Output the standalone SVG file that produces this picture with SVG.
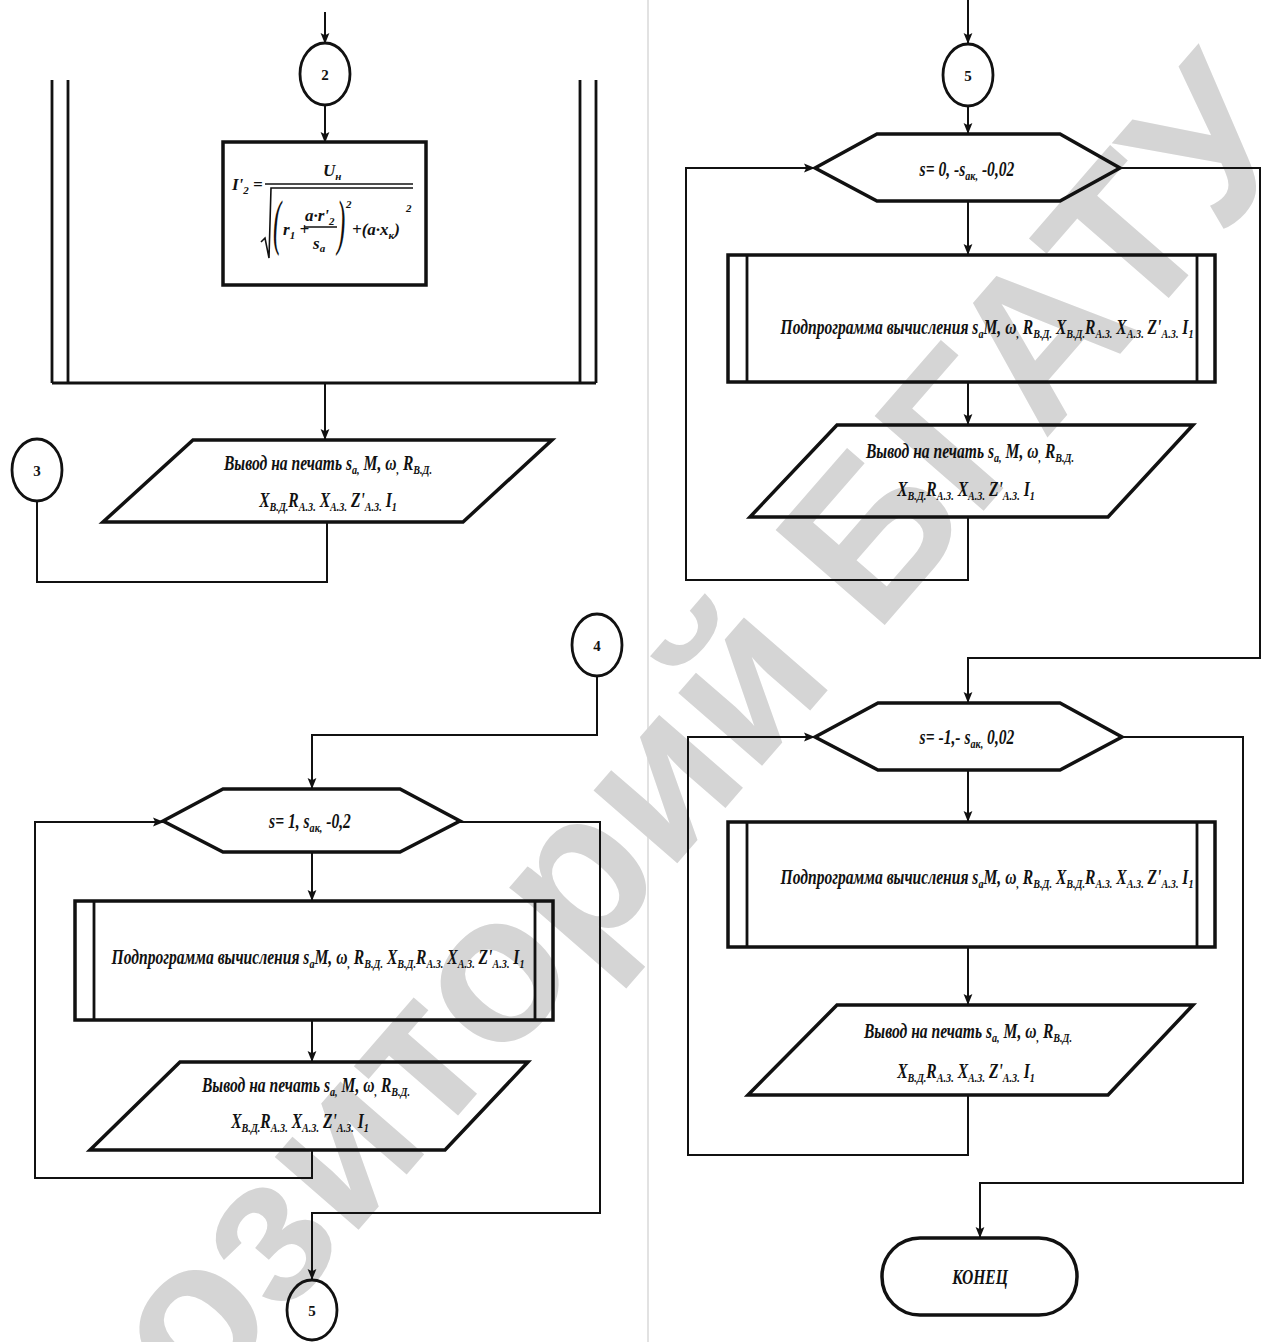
<svg xmlns="http://www.w3.org/2000/svg" width="1283" height="1342" viewBox="0 0 1283 1342">
  <defs>
    <marker id="ah" viewBox="0 0 10 10" refX="10" refY="5" markerWidth="11" markerHeight="11" markerUnits="userSpaceOnUse" orient="auto">
      <path d="M0,1 L10,5 L0,9 L2,5 z" fill="#111"/>
    </marker>
    <style>
      .shape { fill: none; stroke: #111; stroke-width: 3.5; stroke-linejoin: miter; }
      .thin { fill: none; stroke: #111; stroke-width: 2.8; }
      .conn { fill: none; stroke: #111; stroke-width: 2; }
      .arr { marker-end: url(#ah); }
      .t { font-family: "Liberation Serif", "Times New Roman", serif; font-style: italic; font-weight: bold; font-size: 20px; fill: #111; }
      .sub { font-size: 13px; }
      .num { font-family: "Liberation Serif", serif; font-weight: bold; font-size: 15px; fill: #111; }
      .f { font-family: "Liberation Serif", serif; font-style: italic; font-weight: bold; font-size: 17px; fill: #111; }
      .fs { font-size: 11px; }
      .big { font-size: 62px; font-weight: normal; }
      .wm { font-family: "Liberation Sans", Arial, sans-serif; font-weight: bold; font-size: 210px; fill: #d5d5d5; }
    </style>
  </defs>

  <rect width="1283" height="1342" fill="#fff"/>
  <line x1="648" y1="0" x2="648" y2="1342" stroke="#e2e2e2" stroke-width="2"/>

  <!-- watermark -->
  <text class="wm" x="-50" y="1700" transform="rotate(-49 -50 1700)">Репозиторий БГАТУ</text>

  <!-- connectors -->
  <g id="connectors">
    <!-- left column -->
    <path class="conn arr" d="M325,12 V44"/>
    <path class="conn arr" d="M325,105 V143"/>
    <path class="conn arr" d="M325,383 V440"/>
    <path class="conn" d="M327,522 V582 H37 V500"/>
    <path class="conn arr" d="M597,675 V735 H312 V789"/>
    <path class="conn arr" d="M312,852 V901"/>
    <path class="conn arr" d="M312,1020 V1062"/>
    <path class="conn arr" d="M312,1150 V1178 H35 V822 H164"/>
    <path class="conn arr" d="M460,822 H600 V1213 H312 V1280"/>
    <!-- right column -->
    <path class="conn arr" d="M968,0 V44"/>
    <path class="conn arr" d="M968,106 V134"/>
    <path class="conn arr" d="M968,201 V255"/>
    <path class="conn arr" d="M968,382 V425"/>
    <path class="conn arr" d="M968,517 V580 H686 V168 H815"/>
    <path class="conn arr" d="M1120,168 H1260 V658 H968 V703"/>
    <path class="conn arr" d="M968,770 V822"/>
    <path class="conn arr" d="M968,947 V1005"/>
    <path class="conn arr" d="M968,1095 V1155 H688 V737 H815"/>
    <path class="conn arr" d="M1122,737 H1243 V1183 H980 V1238"/>
  </g>

  <!-- connector 2 -->
  <g id="c2">
    <ellipse class="thin" cx="325" cy="74" rx="25" ry="31"/>
    <text class="num" x="325" y="80" text-anchor="middle">2</text>
  </g>

  <!-- loop end bracket -->
  <g id="loop-end">
    <path class="thin" d="M52,80 V383 M68,80 V383 M580,80 V383 M596,80 V383 M52,383 H596"/>
  </g>

  <!-- current formula -->
  <g id="formula">
    <rect class="shape" x="223" y="142" width="203" height="143"/>
    <text class="f" x="232" y="190">I'<tspan class="fs" dy="4">2</tspan><tspan dy="-4"> =</tspan></text>
    <text class="f" x="323" y="176">U<tspan class="fs" dy="4">н</tspan></text>
    <path d="M265,184 H413" stroke="#111" stroke-width="1.6"/>
    <path d="M261,242 L265,238 L269,258 L271,188 H413" fill="none" stroke="#111" stroke-width="1.6"/>
    <text class="f big" transform="translate(273,243) scale(0.4,1)">(</text>
    <text class="f" x="283" y="235">r<tspan class="fs" dy="4">1</tspan><tspan dy="-4"> +</tspan></text>
    <text class="f" x="305" y="221">a·r'<tspan class="fs" dy="4">2</tspan></text>
    <path d="M304,227 H337" stroke="#111" stroke-width="1.3"/>
    <text class="f" x="313" y="249">s<tspan class="fs" dy="3">a</tspan></text>
    <text class="f big" transform="translate(337,243) scale(0.4,1)">)</text>
    <text class="f fs" x="346" y="208">2</text>
    <text class="f" x="352" y="235">+(a·x<tspan class="fs" dy="4">к</tspan><tspan dy="-4">)</tspan></text>
    <text class="f fs" x="406" y="212">2</text>
  </g>

  <!-- output 1 -->
  <g id="out1">
    <path class="shape" d="M193,440 H552 L463,522 H103 Z"/>
    <text class="t" text-anchor="middle" transform="translate(328,470) scale(0.78,1)">Вывод на печать s<tspan class="sub" dy="4">a,</tspan><tspan dy="-4"> M, ω</tspan><tspan class="sub" dy="4">,</tspan><tspan dy="-4"> R</tspan><tspan class="sub" dy="4">В.Д.</tspan></text>
    <text class="t" text-anchor="middle" transform="translate(328,507) scale(0.78,1)">X<tspan class="sub" dy="4">В.Д.</tspan><tspan dy="-4">R</tspan><tspan class="sub" dy="4">А.З.</tspan><tspan dy="-4"> X</tspan><tspan class="sub" dy="4">А.З.</tspan><tspan dy="-4"> Z'</tspan><tspan class="sub" dy="4">А.З.</tspan><tspan dy="-4"> I</tspan><tspan class="sub" dy="4">1</tspan></text>
  </g>

  <g id="c3">
    <ellipse class="thin" cx="37" cy="470" rx="25" ry="31"/>
    <text class="num" x="37" y="476" text-anchor="middle">3</text>
  </g>

  <g id="c4">
    <ellipse class="thin" cx="597" cy="645" rx="25" ry="31"/>
    <text class="num" x="597" y="651" text-anchor="middle">4</text>
  </g>

  <!-- loop 1 -->
  <g id="loop1">
    <path class="shape" d="M163,821 L223,789 H400 L460,821 L400,852 H223 Z"/>
    <text class="t" text-anchor="middle" transform="translate(310,828) scale(0.78,1)">s= 1, s<tspan class="sub" dy="4">ак,</tspan><tspan dy="-4"> -0,2</tspan></text>
  </g>

  <g id="sub1">
    <rect class="shape" x="75" y="901" width="478" height="119"/>
    <path class="thin" d="M94,901 V1020 M535,901 V1020"/>
    <text class="t" text-anchor="middle" transform="translate(318,964) scale(0.78,1)">Подпрограмма вычисления s<tspan class="sub" dy="4">a</tspan><tspan dy="-4">M, ω</tspan><tspan class="sub" dy="4">,</tspan><tspan dy="-4"> R</tspan><tspan class="sub" dy="4">В.Д.</tspan><tspan dy="-4"> X</tspan><tspan class="sub" dy="4">В.Д.</tspan><tspan dy="-4">R</tspan><tspan class="sub" dy="4">А.З.</tspan><tspan dy="-4"> X</tspan><tspan class="sub" dy="4">А.З.</tspan><tspan dy="-4"> Z'</tspan><tspan class="sub" dy="4">А.З.</tspan><tspan dy="-4"> I</tspan><tspan class="sub" dy="4">1</tspan></text>
  </g>

  <g id="out2">
    <path class="shape" d="M180,1062 H528 L445,1150 H90 Z"/>
    <text class="t" text-anchor="middle" transform="translate(306,1092) scale(0.78,1)">Вывод на печать s<tspan class="sub" dy="4">a,</tspan><tspan dy="-4"> M, ω</tspan><tspan class="sub" dy="4">,</tspan><tspan dy="-4"> R</tspan><tspan class="sub" dy="4">В.Д.</tspan></text>
    <text class="t" text-anchor="middle" transform="translate(300,1128) scale(0.78,1)">X<tspan class="sub" dy="4">В.Д.</tspan><tspan dy="-4">R</tspan><tspan class="sub" dy="4">А.З.</tspan><tspan dy="-4"> X</tspan><tspan class="sub" dy="4">А.З.</tspan><tspan dy="-4"> Z'</tspan><tspan class="sub" dy="4">А.З.</tspan><tspan dy="-4"> I</tspan><tspan class="sub" dy="4">1</tspan></text>
  </g>

  <g id="c5a">
    <ellipse class="thin" cx="312" cy="1310" rx="25" ry="30"/>
    <text class="num" x="312" y="1316" text-anchor="middle">5</text>
  </g>

  <!-- right column -->
  <g id="c5b">
    <ellipse class="thin" cx="968" cy="75" rx="25" ry="31"/>
    <text class="num" x="968" y="81" text-anchor="middle">5</text>
  </g>

  <g id="loop2">
    <path class="shape" d="M815,168 L877,134 H1060 L1120,168 L1060,201 H877 Z"/>
    <text class="t" text-anchor="middle" transform="translate(967,176) scale(0.78,1)">s= 0, -s<tspan class="sub" dy="4">ак,</tspan><tspan dy="-4"> -0,02</tspan></text>
  </g>

  <g id="sub2">
    <rect class="shape" x="728" y="255" width="487" height="127"/>
    <path class="thin" d="M747,255 V382 M1197,255 V382"/>
    <text class="t" text-anchor="middle" transform="translate(987,334) scale(0.78,1)">Подпрограмма вычисления s<tspan class="sub" dy="4">a</tspan><tspan dy="-4">M, ω</tspan><tspan class="sub" dy="4">,</tspan><tspan dy="-4"> R</tspan><tspan class="sub" dy="4">В.Д.</tspan><tspan dy="-4"> X</tspan><tspan class="sub" dy="4">В.Д.</tspan><tspan dy="-4">R</tspan><tspan class="sub" dy="4">А.З.</tspan><tspan dy="-4"> X</tspan><tspan class="sub" dy="4">А.З.</tspan><tspan dy="-4"> Z'</tspan><tspan class="sub" dy="4">А.З.</tspan><tspan dy="-4"> I</tspan><tspan class="sub" dy="4">1</tspan></text>
  </g>

  <g id="out3">
    <path class="shape" d="M837,425 H1193 L1108,517 H750 Z"/>
    <text class="t" text-anchor="middle" transform="translate(970,458) scale(0.78,1)">Вывод на печать s<tspan class="sub" dy="4">a,</tspan><tspan dy="-4"> M, ω</tspan><tspan class="sub" dy="4">,</tspan><tspan dy="-4"> R</tspan><tspan class="sub" dy="4">В.Д.</tspan></text>
    <text class="t" text-anchor="middle" transform="translate(966,496) scale(0.78,1)">X<tspan class="sub" dy="4">В.Д.</tspan><tspan dy="-4">R</tspan><tspan class="sub" dy="4">А.З.</tspan><tspan dy="-4"> X</tspan><tspan class="sub" dy="4">А.З.</tspan><tspan dy="-4"> Z'</tspan><tspan class="sub" dy="4">А.З.</tspan><tspan dy="-4"> I</tspan><tspan class="sub" dy="4">1</tspan></text>
  </g>

  <g id="loop3">
    <path class="shape" d="M815,737 L878,703 H1060 L1122,737 L1060,770 H878 Z"/>
    <text class="t" text-anchor="middle" transform="translate(967,744) scale(0.78,1)">s= -1,- s<tspan class="sub" dy="4">ак,</tspan><tspan dy="-4"> 0,02</tspan></text>
  </g>

  <g id="sub3">
    <rect class="shape" x="728" y="822" width="487" height="125"/>
    <path class="thin" d="M747,822 V947 M1197,822 V947"/>
    <text class="t" text-anchor="middle" transform="translate(987,884) scale(0.78,1)">Подпрограмма вычисления s<tspan class="sub" dy="4">a</tspan><tspan dy="-4">M, ω</tspan><tspan class="sub" dy="4">,</tspan><tspan dy="-4"> R</tspan><tspan class="sub" dy="4">В.Д.</tspan><tspan dy="-4"> X</tspan><tspan class="sub" dy="4">В.Д.</tspan><tspan dy="-4">R</tspan><tspan class="sub" dy="4">А.З.</tspan><tspan dy="-4"> X</tspan><tspan class="sub" dy="4">А.З.</tspan><tspan dy="-4"> Z'</tspan><tspan class="sub" dy="4">А.З.</tspan><tspan dy="-4"> I</tspan><tspan class="sub" dy="4">1</tspan></text>
  </g>

  <g id="out4">
    <path class="shape" d="M837,1005 H1193 L1108,1095 H748 Z"/>
    <text class="t" text-anchor="middle" transform="translate(968,1038) scale(0.78,1)">Вывод на печать s<tspan class="sub" dy="4">a,</tspan><tspan dy="-4"> M, ω</tspan><tspan class="sub" dy="4">,</tspan><tspan dy="-4"> R</tspan><tspan class="sub" dy="4">В.Д.</tspan></text>
    <text class="t" text-anchor="middle" transform="translate(966,1078) scale(0.78,1)">X<tspan class="sub" dy="4">В.Д.</tspan><tspan dy="-4">R</tspan><tspan class="sub" dy="4">А.З.</tspan><tspan dy="-4"> X</tspan><tspan class="sub" dy="4">А.З.</tspan><tspan dy="-4"> Z'</tspan><tspan class="sub" dy="4">А.З.</tspan><tspan dy="-4"> I</tspan><tspan class="sub" dy="4">1</tspan></text>
  </g>

  <g id="end">
    <rect class="shape" x="882" y="1238" width="195" height="77" rx="38" ry="38"/>
    <text class="t" text-anchor="middle" transform="translate(980,1284) scale(0.78,1)">КОНЕЦ</text>
  </g>
</svg>
